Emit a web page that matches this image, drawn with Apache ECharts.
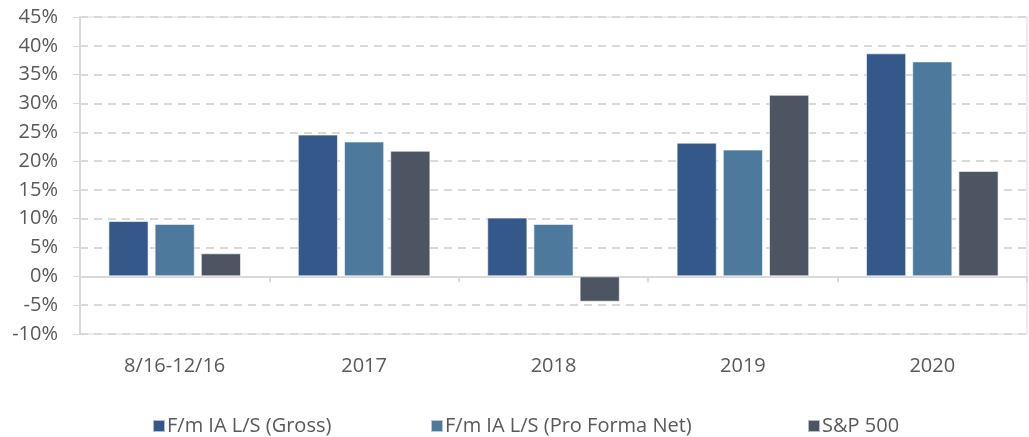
<!DOCTYPE html>
<html>
<head>
<meta charset="utf-8">
<script src="https://cdn.jsdelivr.net/npm/echarts@6/dist/echarts.min.js"></script>
<style>
  html, body { margin: 0; padding: 0; background: #fff; }
  #chart { width: 1029px; height: 437px; }
</style>
</head>
<body>
<div id="chart"></div>
<script>
const categories = ['8/16-12/16', '2017', '2018', '2019', '2020'];
const grossValues = [9.6, 24.6, 10.2, 23.2, 38.7];
const netValues = [9.1, 23.4, 9.1, 22.0, 37.3];
const spValues = [4.0, 21.8, -4.4, 31.5, 18.3];
const seriesNames = ['F/m IA L/S (Gross)', 'F/m IA L/S (Pro Forma Net)', 'S&P 500'];
const colors = ['#35588b', '#4d7a9c', '#4e5562'];

const chart = echarts.init(document.getElementById('chart'));
const font = '"Open Sans", "Noto Sans", sans-serif';
const gray = '#d9d9d9';
const textColor = '#595959';
const fontSize = 20;

const legendAt = (name, left) => ({
  data: [name],
  left: left,
  top: 416,
  icon: 'rect',
  itemWidth: 12,
  itemHeight: 12,
  itemGap: 0,
  padding: 0,
  textStyle: { fontFamily: font, fontSize: fontSize, color: textColor, padding: [0, 0, 0, -3] }
});

const option = {
  animation: false,
  color: colors,
  grid: {
    left: 80, right: 2, top: 17, bottom: 103,
    show: true, borderColor: gray, borderWidth: 1
  },
  legend: [
    legendAt(seriesNames[0], 152),
    legendAt(seriesNames[1], 430),
    legendAt(seriesNames[2], 807)
  ],
  xAxis: [
    {
      type: 'category',
      data: categories,
      position: 'bottom',
      axisLine: { show: false, onZero: false },
      axisTick: { show: false },
      axisLabel: { margin: 22, fontFamily: font, fontSize: fontSize, color: textColor }
    },
    {
      type: 'category',
      data: categories,
      position: 'bottom',
      axisLine: { show: true, onZero: true, lineStyle: { color: gray, width: 2 } },
      axisTick: { show: true, length: 6, lineStyle: { color: gray, width: 2 } },
      axisLabel: { show: false }
    }
  ],
  yAxis: {
    type: 'value',
    min: -10,
    max: 45,
    interval: 5,
    axisLine: { show: true, lineStyle: { color: gray, width: 2 } },
    axisTick: { show: true, length: 7, lineStyle: { color: gray, width: 1 } },
    axisLabel: {
      formatter: '{value}%',
      margin: 22,
      fontFamily: font,
      fontSize: fontSize,
      color: textColor
    },
    splitLine: { show: true, lineStyle: { color: gray, type: [8, 6], width: 2 } }
  },
  series: [grossValues, netValues, spValues].map((vals, i) => ({
    name: seriesNames[i],
    type: 'bar',
    xAxisIndex: 0,
    data: vals,
    barGap: '15%',
    barCategoryGap: '30%',
    itemStyle: { borderColor: 'rgba(255,255,255,0.6)', borderWidth: 1 }
  }))
};

chart.setOption(option);
</script>
</body>
</html>
